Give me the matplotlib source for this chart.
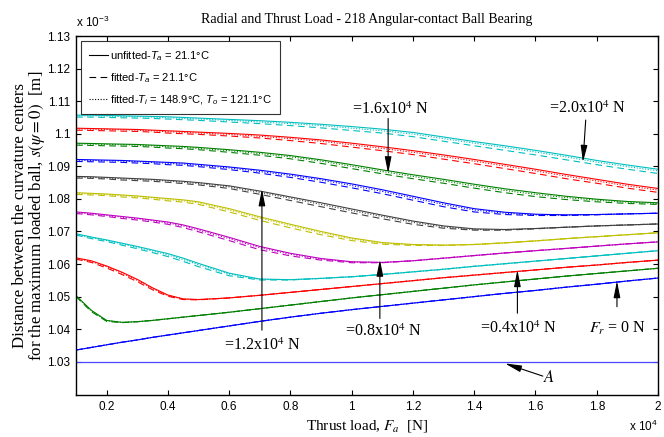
import numpy as np
import matplotlib
matplotlib.use("Agg")
import matplotlib.pyplot as plt
from matplotlib.lines import Line2D
from matplotlib.font_manager import FontProperties

plt.rcParams['mathtext.fontset'] = 'custom'
plt.rcParams['mathtext.rm'] = 'Liberation Sans'
plt.rcParams['mathtext.it'] = 'Liberation Sans:italic'

# thrust load grid, x 10^4 N
thrust = [0.1, 0.15, 0.2, 0.25, 0.3, 0.35, 0.4, 0.45, 0.5, 0.6, 0.7, 0.8,
          0.9, 1.0, 1.1, 1.2, 1.3, 1.4, 1.5, 1.6, 1.7, 1.8, 1.9, 2.0]

# radial loads, x 10^4 N
radial = [0.0, 0.2, 0.4, 0.6, 0.8, 1.0, 1.2, 1.4, 1.6, 1.8, 2.0]

# unfitted curves, distance in x 10^-3 m
s_fr00 = [1.0336, 1.0344, 1.0352, 1.0360, 1.0367, 1.0375, 1.0382, 1.0389, 1.0396, 1.0410, 1.0424, 1.0437,
          1.0449, 1.0460, 1.0470, 1.0480, 1.0490, 1.0500, 1.0510, 1.0519, 1.0529, 1.0538, 1.0548, 1.0557]
s_fr02 = [1.0503, 1.0458, 1.0427, 1.0421, 1.0423, 1.0427, 1.0432, 1.0437, 1.0442, 1.0452, 1.0463, 1.0474,
          1.0485, 1.0496, 1.0506, 1.0516, 1.0526, 1.0536, 1.0545, 1.0554, 1.0563, 1.0571, 1.0579, 1.0587]
s_fr04 = [1.0619, 1.0610, 1.0594, 1.0575, 1.0553, 1.0527, 1.0505, 1.0493, 1.0491, 1.0496, 1.0504, 1.0513,
          1.0522, 1.0531, 1.0540, 1.0549, 1.0558, 1.0566, 1.0574, 1.0582, 1.0590, 1.0597, 1.0605, 1.0612]
s_fr06 = [1.0693, 1.0683, 1.0674, 1.0664, 1.0654, 1.0643, 1.0632, 1.0618, 1.0602, 1.0572, 1.0554, 1.0552,
          1.0556, 1.0561, 1.0568, 1.0576, 1.0584, 1.0593, 1.0601, 1.0609, 1.0617, 1.0625, 1.0633, 1.0641]
s_fr08 = [1.0760, 1.0756, 1.0751, 1.0746, 1.0741, 1.0735, 1.0729, 1.0720, 1.0708, 1.0682, 1.0654, 1.0633,
          1.0617, 1.0607, 1.0605, 1.0610, 1.0618, 1.0626, 1.0634, 1.0641, 1.0648, 1.0655, 1.0662, 1.0668]
s_fr10 = [1.0819, 1.0817, 1.0815, 1.0812, 1.0809, 1.0805, 1.0801, 1.0797, 1.0791, 1.0770, 1.0745, 1.0722,
          1.0700, 1.0680, 1.0666, 1.0660, 1.0658, 1.0660, 1.0665, 1.0671, 1.0678, 1.0684, 1.0690, 1.0696]
s_fr12 = [1.0869, 1.0868, 1.0866, 1.0864, 1.0862, 1.0860, 1.0857, 1.0854, 1.0850, 1.0840, 1.0824, 1.0806,
          1.0788, 1.0769, 1.0750, 1.0732, 1.0717, 1.0708, 1.0706, 1.0709, 1.0713, 1.0717, 1.0720, 1.0723]
s_fr14 = [1.0921, 1.0920, 1.0919, 1.0918, 1.0916, 1.0914, 1.0912, 1.0910, 1.0906, 1.0898, 1.0888, 1.0876,
          1.0862, 1.0846, 1.0828, 1.0808, 1.0788, 1.0770, 1.0759, 1.0753, 1.0751, 1.0752, 1.0754, 1.0756]
s_fr16 = [1.0971, 1.0970, 1.0969, 1.0968, 1.0967, 1.0965, 1.0963, 1.0961, 1.0958, 1.0951, 1.0943, 1.0933,
          1.0920, 1.0905, 1.0889, 1.0874, 1.0860, 1.0845, 1.0831, 1.0819, 1.0808, 1.0799, 1.0792, 1.0788]
s_fr18 = [1.1017, 1.1016, 1.1015, 1.1014, 1.1013, 1.1011, 1.1009, 1.1007, 1.1005, 1.1001, 1.0996, 1.0989,
          1.0981, 1.0971, 1.0960, 1.0948, 1.0935, 1.0921, 1.0906, 1.0891, 1.0875, 1.0860, 1.0845, 1.0832]
s_fr20 = [1.1057, 1.1057, 1.1056, 1.1055, 1.1054, 1.1053, 1.1052, 1.1050, 1.1048, 1.1044, 1.1040, 1.1035,
          1.1029, 1.1022, 1.1014, 1.1004, 1.0990, 1.0976, 1.0963, 1.0949, 1.0934, 1.0918, 1.0904, 1.0891]

# how far the fitted-Ta curve sits below the unfitted one (x 10^-4 of the axis unit)
dash_fr00 = [0, 0, 0, 0, 0, 0, 0, 0, 0, 0, 0, 0, 0, 0, 0, 0, 0, 0, 0, 0, 0, 0, 0, 0]
dash_fr02 = [3, 4, 3, 1, 0, 0, 0, 0, 0, 0, 0, 0, 0, 0, 0, 0, 0, 0, 0, 0, 0, 0, 0, 0]
dash_fr04 = [4, 5, 6, 7, 7, 6, 4, 2, 1, 0, 0, 0, 0, 0, 0, 0, 0, 0, 0, 0, 0, 0, 0, 0]
dash_fr06 = [4, 5, 5, 6, 7, 8, 9, 10, 10, 8, 3, 1, 0, 0, 0, 0, 0, 0, 0, 0, 0, 0, 0, 0]
dash_fr08 = [5, 5, 5, 6, 6, 6, 7, 8, 9, 10, 10, 8, 5, 3, 1, 0, 0, 0, 0, 0, 0, 0, 0, 0]
dash_fr10 = [5, 5, 5, 6, 6, 6, 7, 7, 8, 10, 11, 11, 10, 8, 5, 3, 1, 0, 0, 0, 0, 0, 0, 0]
dash_fr12 = [5, 5, 5, 6, 6, 6, 6, 7, 7, 8, 10, 11, 12, 12, 11, 10, 7, 4, 2, 1, 0, 0, 0, 0]
dash_fr14 = [6, 6, 6, 6, 6, 6, 7, 7, 7, 8, 9, 10, 11, 12, 12, 12, 12, 10, 7, 4, 2, 1, 0, 0]
dash_fr16 = [6, 6, 6, 6, 6, 6, 7, 7, 7, 8, 9, 10, 11, 12, 12, 12, 12, 12, 12, 12, 10, 8, 6, 5]
dash_fr18 = [6, 6, 6, 6, 6, 6, 7, 7, 7, 8, 9, 10, 11, 12, 12, 12, 13, 13, 13, 13, 13, 12, 12, 12]
dash_fr20 = [6, 6, 6, 6, 6, 6, 7, 7, 7, 8, 9, 10, 11, 12, 12, 13, 13, 13, 14, 14, 14, 13, 13, 13]

# same for the fitted-Ti/To curve
dot_fr00 = [0, 0, 0, 0, 0, 0, 0, 0, 0, 0, 0, 0, 0, 0, 0, 0, 0, 0, 0, 0, 0, 0, 0, 0]
dot_fr02 = [1, 2, 1, 0, 0, 0, 0, 0, 0, 0, 0, 0, 0, 0, 0, 0, 0, 0, 0, 0, 0, 0, 0, 0]
dot_fr04 = [2, 2, 2, 3, 3, 2, 2, 1, 0, 0, 0, 0, 0, 0, 0, 0, 0, 0, 0, 0, 0, 0, 0, 0]
dot_fr06 = [2, 2, 2, 2, 3, 3, 4, 4, 4, 3, 1, 0, 0, 0, 0, 0, 0, 0, 0, 0, 0, 0, 0, 0]
dot_fr08 = [2, 2, 2, 2, 2, 2, 3, 3, 4, 4, 4, 3, 2, 1, 0, 0, 0, 0, 0, 0, 0, 0, 0, 0]
dot_fr10 = [2, 2, 2, 2, 2, 2, 3, 3, 3, 4, 4, 4, 4, 3, 2, 1, 0, 0, 0, 0, 0, 0, 0, 0]
dot_fr12 = [2, 2, 2, 2, 2, 2, 2, 3, 3, 3, 4, 4, 5, 5, 4, 4, 3, 2, 1, 0, 0, 0, 0, 0]
dot_fr14 = [2, 2, 2, 2, 2, 2, 3, 3, 3, 3, 4, 4, 4, 5, 5, 5, 5, 4, 3, 2, 1, 0, 0, 0]
dot_fr16 = [2, 2, 2, 2, 2, 2, 3, 3, 3, 3, 4, 4, 4, 5, 5, 5, 5, 5, 5, 5, 4, 3, 2, 2]
dot_fr18 = [2, 2, 2, 2, 2, 2, 3, 3, 3, 3, 4, 4, 4, 5, 5, 5, 5, 5, 5, 5, 5, 5, 5, 5]
dot_fr20 = [2, 2, 2, 2, 2, 2, 3, 3, 3, 3, 4, 4, 4, 5, 5, 5, 5, 5, 5, 5, 5, 5, 5, 5]

# reference line A
line_a = 1.03

x_ticks = [0.2, 0.4, 0.6, 0.8, 1.0, 1.2, 1.4, 1.6, 1.8, 2.0]
x_ticklabels = ['0.2', '0.4', '0.6', '0.8', '1', '1.2', '1.4', '1.6', '1.8', '2']
y_ticks = [1.03, 1.04, 1.05, 1.06, 1.07, 1.08, 1.09, 1.10, 1.11, 1.12, 1.13]
y_ticklabels = ['1.03', '1.04', '1.05', '1.06', '1.07', '1.08', '1.09', '1.1', '1.11', '1.12', '1.13']

unfitted = [s_fr00, s_fr02, s_fr04, s_fr06, s_fr08, s_fr10, s_fr12, s_fr14, s_fr16, s_fr18, s_fr20]
dash_gap = [dash_fr00, dash_fr02, dash_fr04, dash_fr06, dash_fr08, dash_fr10,
            dash_fr12, dash_fr14, dash_fr16, dash_fr18, dash_fr20]
dot_gap = [dot_fr00, dot_fr02, dot_fr04, dot_fr06, dot_fr08, dot_fr10,
           dot_fr12, dot_fr14, dot_fr16, dot_fr18, dot_fr20]

# old matlab colour order
colors = [(0, 0, 1), (0, 0.5, 0), (1, 0, 0), (0, 0.75, 0.75),
          (0.75, 0, 0.75), (0.75, 0.75, 0), (0.25, 0.25, 0.25)]

fig = plt.figure(figsize=(6.64, 4.37), dpi=100)
ax = fig.add_axes([76 / 664, 1 - 395 / 437, 582 / 664, 359 / 437])

x = np.array(thrust)
for i, fr in enumerate(radial):
    c = colors[i % len(colors)]
    y = np.array(unfitted[i])
    ax.plot(x, y, color=c, lw=0.8, ls='-')
    ax.plot(x, y - np.array(dash_gap[i]) * 1e-4, color=c, lw=0.8, ls=(0, (6, 4)))
    ax.plot(x, y - np.array(dot_gap[i]) * 1e-4, color=c, lw=0.8, ls=(0, (1, 1.5)))

ax.axhline(line_a, color='#4848ff', lw=0.9)

ax.set_xlim(0.1, 2.0)
ax.set_ylim(1.0198, 1.13)
ax.set_xticks(x_ticks)
ax.set_xticklabels(x_ticklabels)
ax.set_yticks(y_ticks)
ax.set_yticklabels(y_ticklabels)
ax.tick_params(direction='in', length=3.5, width=0.8, top=True, right=True,
               labelsize=8.5, pad=4)
for lab in ax.get_xticklabels() + ax.get_yticklabels():
    lab.set_family('Liberation Sans')
for sp in ax.spines.values():
    sp.set_linewidth(1.0)

serif = 'Liberation Serif'
ax.set_title('Radial and Thrust Load - 218 Angular-contact Ball Bearing',
             family=serif, fontsize=10, pad=9)
ax.set_xlabel(r'Thrust load, $F_a$  [N]', family=serif, fontsize=11,
              math_fontfamily='stix', labelpad=4)
ax.set_ylabel('Distance between the curvature centers\n'
              r'for the maximum loaded ball, $s(\psi = 0)$  [m]',
              family=serif, fontsize=12.2, math_fontfamily='stix',
              linespacing=0.95, labelpad=0)

ax.text(0.0, 1.018, r'x 10$^{-3}$', transform=ax.transAxes, family='Liberation Sans',
        fontsize=8.5, ha='left', va='bottom')
ax.text(1.0, -0.108, r'x 10$^{4}$', transform=ax.transAxes, family='Liberation Sans',
        fontsize=8.5, ha='right', va='bottom')

# annotation labels: text, text position, arrow tail, arrow tip
notes = [
    (r'=1.2x10$^4$ N', (0.708, 1.0348), (0.707, 1.0397), (0.707, 1.0830)),
    (r'=0.8x10$^4$ N', (1.103, 1.0392), (1.092, 1.0433), (1.092, 1.0614)),
    (r'=0.4x10$^4$ N', (1.545, 1.0403), (1.541, 1.0449), (1.541, 1.0582)),
    (r'$F_r$ = 0 N', (1.868, 1.0403), (1.866, 1.0469), (1.866, 1.0548)),
    (r'=1.6x10$^4$ N', (1.128, 1.1073), (1.119, 1.1047), (1.119, 1.0878)),
    (r'=2.0x10$^4$ N', (1.770, 1.1078), (1.764, 1.1042), (1.755, 1.0913)),
]
arrow_style = '-|>,head_length=1.0,head_width=0.2'
for txt, pos, tail, tip in notes:
    ax.text(pos[0], pos[1], txt, family=serif, fontsize=11.5, math_fontfamily='stix',
            ha='center', va='center')
    ax.annotate('', xy=tip, xytext=tail,
                arrowprops=dict(arrowstyle=arrow_style, color='k', lw=0.8,
                                shrinkA=0, shrinkB=0, mutation_scale=10))

ax.text(1.645, 1.0249, r'$A$', family=serif, fontsize=12, math_fontfamily='stix',
        ha='center', va='center')
ax.annotate('', xy=(1.500, 1.0295), xytext=(1.624, 1.0256),
            arrowprops=dict(arrowstyle=arrow_style, color='k', lw=0.8,
                            shrinkA=0, shrinkB=0, mutation_scale=10))

handles = [Line2D([], [], color='k', lw=0.8, ls='-'),
           Line2D([], [], color='k', lw=0.8, ls=(0, (6, 4))),
           Line2D([], [], color='k', lw=0.8, ls=(0, (1, 1.5)))]
labels = [r'unfitted-$T_a$ = 21.1°C',
          r'fitted-$T_a$ = 21.1°C',
          r'fitted-$T_i$ = 148.9°C, $T_o$ = 121.1°C']
leg = ax.legend(handles, labels, loc='upper left', bbox_to_anchor=(0.009, 0.986),
                prop=FontProperties(family='Liberation Sans', size=8, math_fontfamily='custom'),
                frameon=True, fancybox=False, handlelength=1.7, handletextpad=0.2,
                labelspacing=0.75, borderpad=0.7, borderaxespad=0)
leg.get_frame().set_edgecolor('k')
leg.get_frame().set_linewidth(0.8)

fig.savefig('out.png', dpi=100)
